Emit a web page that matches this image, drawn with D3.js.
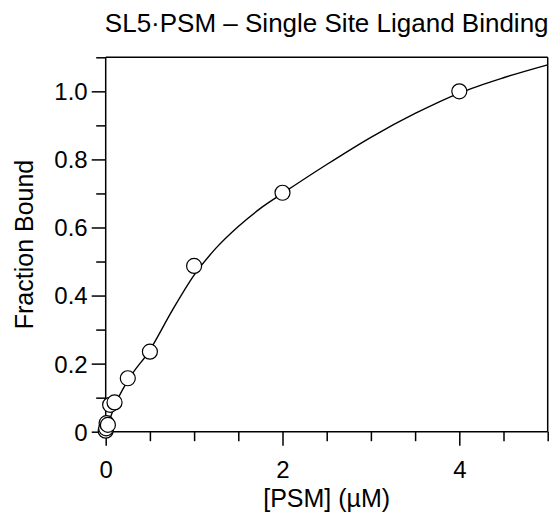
<!DOCTYPE html>
<html>
<head>
<meta charset="utf-8">
<script src="https://cdn.jsdelivr.net/npm/d3@7"></script>
<style>
  body { margin: 0; background: #fff; }
  svg text { font-family: "Liberation Sans", Arial, sans-serif; fill: #000; }
  .axis path { stroke: #000; stroke-width: 1.5; }
  .axis line { stroke: #000; stroke-width: 1.5; }
</style>
</head>
<body>
<div id="chart-area"><svg></svg></div>
<script>
// measured points
const conc = [0, 0.005, 0.01, 0.025, 0.05, 0.1, 0.25, 0.5, 1, 2, 4];
const fraction = [0.003, 0.01, 0.025, 0.02, 0.079, 0.086, 0.157, 0.235, 0.487, 0.702, 1.0];

// fitted curve
const fitX = [0, 0.1, 0.25, 0.5, 0.75, 1, 1.25, 1.5, 1.75, 2, 2.5, 3, 3.5, 4, 4.5, 5];
const fitY = [0, 0.075, 0.15, 0.24, 0.355, 0.46, 0.54, 0.603, 0.656, 0.7, 0.785, 0.865, 0.935, 0.995, 1.04, 1.078];

const xTicks = [0, 0.5, 1, 1.5, 2, 2.5, 3, 3.5, 4, 4.5, 5];
const xMajor = [0, 2, 4];
const yTicks = [0, 0.1, 0.2, 0.3, 0.4, 0.5, 0.6, 0.7, 0.8, 0.9, 1.0, 1.1];
const yMajor = [0, 0.2, 0.4, 0.6, 0.8, 1.0];

const chartSize = { width: 558, height: 520 };
const margin = { left: 105.7, right: 10.3, top: 57.3, bottom: 88.3 };
const width = chartSize.width - margin.left - margin.right;
const height = chartSize.height - margin.top - margin.bottom;

const isMajor = (list, v) => list.some(m => Math.abs(m - v) < 1e-9);

const svg = d3
  .select("#chart-area svg")
  .attr("width", chartSize.width)
  .attr("height", chartSize.height);

const g = svg
  .append("g")
  .attr("transform", `translate(${margin.left},${margin.top})`);

const x = d3.scaleLinear().domain([0, 5]).range([0, width]);
const y = d3.scaleLinear().domain([0, 1.1]).range([height, 0]);

const xAxis = d3
  .axisBottom(x)
  .tickValues(xTicks)
  .tickSizeOuter(0)
  .tickPadding(0)
  .tickFormat(d => (isMajor(xMajor, d) ? d3.format("d")(d) : ""));

const yAxis = d3
  .axisLeft(y)
  .tickValues(yTicks)
  .tickSizeOuter(0)
  .tickPadding(0)
  .tickFormat(d => (isMajor(yMajor, d) ? (d === 0 ? "0" : d3.format(".1f")(d)) : ""));

const gx = g
  .append("g")
  .attr("class", "axis")
  .attr("transform", `translate(0,${height})`)
  .call(xAxis);
gx.selectAll(".tick line").attr("y2", d => (isMajor(xMajor, d) ? 14 : 9.5));
gx.selectAll(".tick text")
  .attr("y", 46)
  .attr("dy", 0)
  .style("font-size", "24px");

const gy = g.append("g").attr("class", "axis").call(yAxis);
gy.selectAll(".tick line").attr("x2", d => (isMajor(yMajor, d) ? -14 : -9.5));
gy.selectAll(".tick text")
  .attr("x", -18)
  .attr("dy", "0.35em")
  .style("font-size", "24px");
gx.select(".domain").remove();
gy.select(".domain").remove();

// axis and frame lines
const frame = [
  [0, 0, 5, 0],
  [0, 0, 0, 1.1],
  [0, 1.1, 5, 1.1],
  [5, 0, 5, 1.1]
];
g.selectAll(".frame")
  .data(frame)
  .enter()
  .append("line")
  .attr("class", "frame")
  .attr("x1", d => x(d[0]))
  .attr("y1", d => y(d[1]))
  .attr("x2", d => x(d[2]))
  .attr("y2", d => y(d[3]))
  .attr("stroke", "#000")
  .attr("stroke-width", 1.5);

const fit = fitX.map((v, i) => ({ x: v, y: fitY[i] }));
const line = d3
  .line()
  .x(d => x(d.x))
  .y(d => y(d.y))
  .curve(d3.curveMonotoneX);

g.append("path")
  .attr("d", line(fit))
  .attr("fill", "none")
  .attr("stroke", "#000")
  .attr("stroke-width", 1.4);

g.selectAll("circle")
  .data(conc.map((c, i) => ({ x: c, y: fraction[i] })))
  .enter()
  .append("circle")
  .attr("cx", d => x(d.x))
  .attr("cy", d => y(d.y))
  .attr("r", 7.5)
  .attr("fill", "#fff")
  .attr("stroke", "#000")
  .attr("stroke-width", 1.2);

// labels
g.append("text")
  .attr("x", width / 2)
  .attr("y", -25.5)
  .attr("text-anchor", "middle")
  .style("font-size", "26px")
  .text("SL5·PSM – Single Site Ligand Binding");

g.append("text")
  .attr("x", width / 2)
  .attr("y", height + 75)
  .attr("text-anchor", "middle")
  .style("font-size", "25px")
  .text("[PSM] (µM)");

g.append("text")
  .attr("transform", "rotate(-90)")
  .attr("x", -height / 2)
  .attr("y", 33 - margin.left)
  .attr("text-anchor", "middle")
  .style("font-size", "25px")
  .text("Fraction Bound");
</script>
</body>
</html>
